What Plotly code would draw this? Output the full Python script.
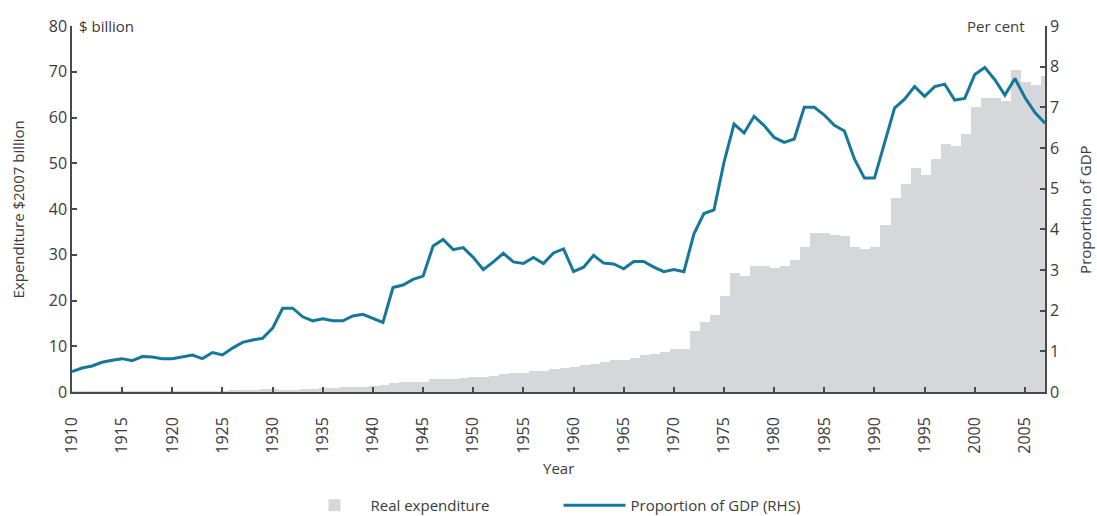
import plotly.graph_objects as go

years = list(range(1910, 2008))

real_expenditure = [
    # 1910-1919
    0.15, 0.15, 0.15, 0.15, 0.15, 0.15, 0.15, 0.15, 0.15, 0.15,
    # 1920-1929
    0.15, 0.15, 0.15, 0.15, 0.15, 0.15, 0.3, 0.5, 0.5, 0.55,
    # 1930-1939
    0.55, 0.5, 0.5, 0.55, 0.6, 0.8, 0.9, 1.1, 1.15, 1.2,
    # 1940-1949
    1.25, 1.5, 1.9, 2.1, 2.1, 2.2, 2.8, 2.8, 2.9, 3.1,
    # 1950-1959
    3.2, 3.3, 3.4, 4.0, 4.1, 4.2, 4.5, 4.7, 5.0, 5.3,
    # 1960-1969
    5.5, 5.8, 6.2, 6.5, 6.9, 7.1, 7.5, 8.0, 8.4, 8.8,
    # 1970-1979
    9.4, 9.5, 13.3, 15.3, 16.8, 21.0, 26.1, 25.4, 27.5, 27.5,
    # 1980-1989
    27.2, 27.5, 28.8, 31.7, 34.8, 34.7, 34.3, 34.0, 31.8, 31.2,
    # 1990-1999
    31.8, 36.6, 42.5, 45.4, 48.9, 47.4, 50.9, 54.2, 53.7, 56.3,
    # 2000-2007
    62.3, 64.3, 64.3, 63.7, 70.3, 67.8, 67.0, 69.0,
]

gdp_share = [
    # 1910-1919
    0.50, 0.59, 0.64, 0.73, 0.78, 0.82, 0.77, 0.87, 0.86, 0.82,
    # 1920-1929
    0.82, 0.87, 0.91, 0.82, 0.97, 0.91, 1.08, 1.22, 1.28, 1.32,
    # 1930-1939
    1.57, 2.06, 2.06, 1.85, 1.75, 1.80, 1.75, 1.75, 1.87, 1.91,
    # 1940-1949
    1.81, 1.71, 2.57, 2.63, 2.77, 2.85, 3.59, 3.75, 3.50, 3.55,
    # 1950-1959
    3.31, 3.01, 3.20, 3.41, 3.20, 3.16, 3.31, 3.16, 3.42, 3.52,
    # 1960-1969
    2.96, 3.07, 3.36, 3.17, 3.15, 3.03, 3.21, 3.21, 3.07, 2.96,
    # 1970-1979
    3.01, 2.96, 3.89, 4.39, 4.48, 5.65, 6.59, 6.37, 6.78, 6.55,
    # 1980-1989
    6.26, 6.14, 6.22, 7.00, 7.00, 6.81, 6.56, 6.42, 5.73, 5.26,
    # 1990-1999
    5.26, 6.10, 6.98, 7.20, 7.51, 7.27, 7.51, 7.57, 7.18, 7.22,
    # 2000-2007
    7.81, 7.98, 7.68, 7.30, 7.71, 7.24, 6.87, 6.61,
]

x_ticks = list(range(1910, 2006, 5))
left_ticks = list(range(0, 81, 10))
right_ticks = list(range(0, 10))

FONT = "Open Sans"
TXT = "#3a3a3a"
AX = "#4a4a4a"

fig = go.Figure()
fig.add_trace(go.Bar(
    x=years, y=real_expenditure, name="Real expenditure",
    width=1, offset=-0.4,
    marker=dict(color="#d5d7da", line=dict(width=0)),
    yaxis="y",
))
fig.add_trace(go.Scatter(
    x=years, y=gdp_share, name="Proportion of GDP (RHS)",
    mode="lines", line=dict(color="#15789b", width=3),
    yaxis="y2",
))

fig.update_layout(
    width=1097, height=516,
    margin=dict(l=72, r=52, t=26, b=124, autoexpand=False),
    paper_bgcolor="white", plot_bgcolor="white",
    font=dict(family=FONT, size=15, color=TXT),
    bargap=0,
    showlegend=True,
    legend=dict(orientation="h", x=0.5, xanchor="center", y=-0.31, yanchor="middle",
                font=dict(size=15, color=TXT), itemwidth=62, entrywidth=183,
                traceorder="normal"),
    xaxis=dict(
        range=[1910, 2007], tickmode="array", tickvals=x_ticks,
        ticktext=[str(v) for v in x_ticks], tickangle=-90,
        ticks="inside", ticklen=5, tickcolor=AX, tickwidth=1.5,
        showline=True, linecolor=AX, linewidth=1.5, showgrid=False, zeroline=False,
        tickfont=dict(size=16, color=TXT), ticklabelstandoff=17, automargin=False,
    ),
    yaxis=dict(
        range=[0, 80], tickmode="array", tickvals=left_ticks,
        ticks="inside", ticklen=5, tickcolor=AX, tickwidth=1.5,
        showline=True, linecolor=AX, linewidth=1.5, showgrid=False, zeroline=False,
        tickfont=dict(size=16, color=TXT), automargin=False,
    ),
    yaxis2=dict(
        range=[0, 9], tickmode="array", tickvals=right_ticks,
        overlaying="y", side="right",
        ticks="inside", ticklen=5, tickcolor=AX, tickwidth=1.5,
        showline=True, linecolor=AX, linewidth=1.5, showgrid=False, zeroline=False,
        tickfont=dict(size=16, color=TXT), automargin=False,
    ),
    annotations=[
        dict(text="$ billion", xref="paper", yref="paper", x=0.005, y=1.0,
             xanchor="left", yanchor="middle", showarrow=False, font=dict(size=15, color=TXT)),
        dict(text="Per cent", xref="paper", yref="paper", x=0.982, y=1.0,
             xanchor="right", yanchor="middle", showarrow=False, font=dict(size=15, color=TXT)),
        dict(text="Expenditure $2007 billion", xref="paper", yref="paper", x=-0.055, y=0.5,
             xanchor="center", yanchor="middle", textangle=-90, showarrow=False,
             font=dict(size=15, color=TXT)),
        dict(text="Proportion of GDP", xref="paper", yref="paper", x=1.041, y=0.5,
             xanchor="center", yanchor="middle", textangle=-90, showarrow=False,
             font=dict(size=15, color=TXT)),
        dict(text="Year", xref="paper", yref="paper", x=0.5, y=-0.208,
             xanchor="center", yanchor="middle", showarrow=False, font=dict(size=15, color=TXT)),
    ],
)

fig.write_html("out.html", config={"displayModeBar": False},
               post_script="document.body.style.margin='0';")
